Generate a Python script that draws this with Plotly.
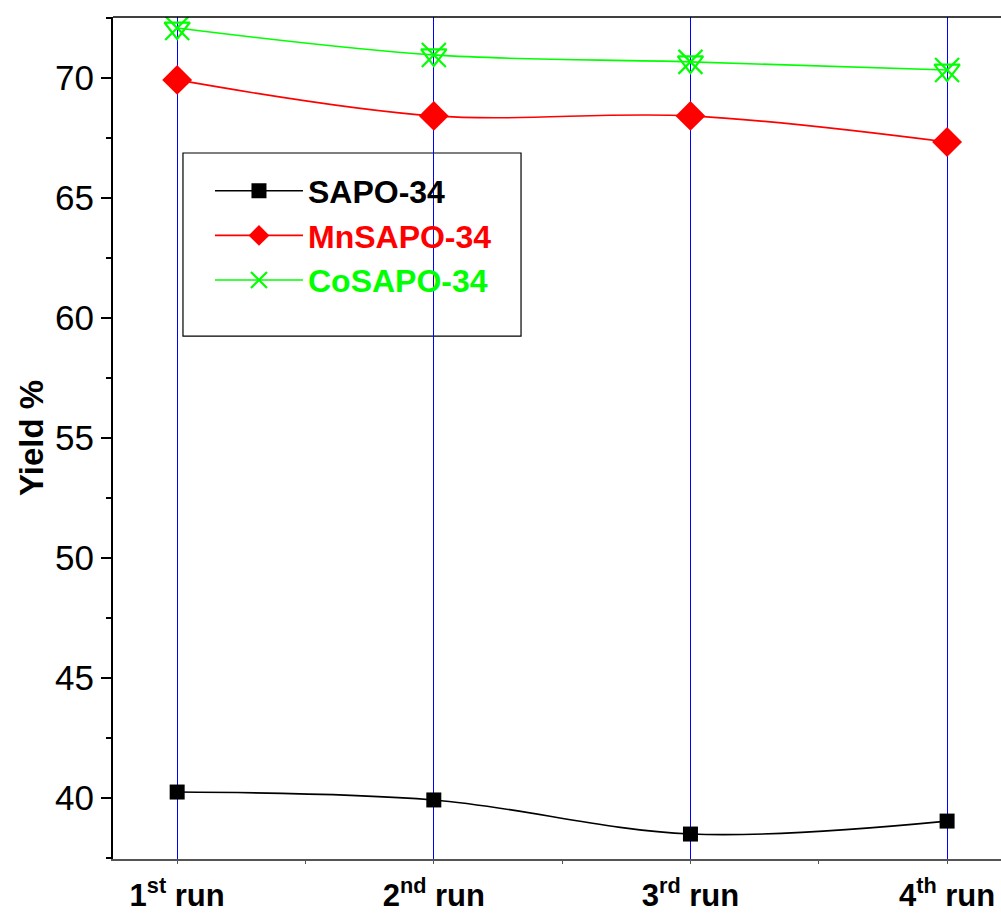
import plotly.graph_objects as go

runs = [0, 1, 2, 3]
run_labels = ["1<sup>st</sup> run", "2<sup>nd</sup> run", "3<sup>rd</sup> run", "4<sup>th</sup> run"]
sapo = [40.25, 39.92, 38.5, 39.04]
mnsapo = [69.92, 68.42, 68.42, 67.33]
cosapo = [72.08, 70.96, 70.67, 70.33]

FONT = "Liberation Sans, Arial, sans-serif"

fig = go.Figure()
fig.add_trace(go.Scatter(
    x=runs, y=sapo, mode="lines+markers",
    name="<b><span style='color:black'>SAPO-34</span></b>",
    line=dict(color="black", width=1.6, shape="spline"),
    marker=dict(symbol="square", size=15, color="black")))
fig.add_trace(go.Scatter(
    x=runs, y=mnsapo, mode="lines+markers",
    name="<b><span style='color:#ff0000'>MnSAPO-34</span></b>",
    line=dict(color="#ff0000", width=1.6, shape="spline"),
    marker=dict(symbol="diamond", size=23, color="#ff0000")))
fig.add_trace(go.Scatter(
    x=runs, y=cosapo, mode="lines+markers",
    name="<b><span style='color:#00ff00'>CoSAPO-34</span></b>",
    line=dict(color="#00ff00", width=1.6, shape="spline"),
    marker=dict(symbol="x-thin-open", size=24, color="#00ff00",
                line=dict(color="#00ff00", width=2.2)),
    legendgroup="co"))
fig.add_trace(go.Scatter(
    x=runs, y=cosapo, mode="markers", showlegend=False, legendgroup="co",
    marker=dict(symbol="triangle-down-open", size=22, color="#00ff00",
                line=dict(color="#00ff00", width=2.2))))

fig.update_layout(
    width=1001, height=914,
    margin=dict(l=113, r=0, t=17, b=55),
    plot_bgcolor="white", paper_bgcolor="white",
    font=dict(family=FONT, color="black"),
    legend=dict(
        x=0.1092, y=0.826, xanchor="left", yanchor="top",
        borderwidth=0, bgcolor="rgba(0,0,0,0)",
        font=dict(size=32, family=FONT),
        itemwidth=88, tracegroupgap=0,
    ),
    xaxis=dict(
        range=[-0.25, 3.21], automargin=False,
        tickmode="array", tickvals=runs, ticktext=["<b>" + t + "</b>" for t in run_labels],
        tickfont=dict(size=31, family=FONT, color="black"),
        ticklabeloverflow="allow", ticklabelstandoff=5,
        showline=True, linecolor="#555555", linewidth=2,
        ticks="outside", ticklen=3, tickcolor="#555555", tickwidth=1,
        showgrid=True, gridcolor="#0000ff", gridwidth=1,
        minor=dict(tickvals=[0.5, 1.5, 2.5], ticks="outside", ticklen=3,
                   tickcolor="#555555", showgrid=False),
        zeroline=False,
    ),
    yaxis=dict(
        range=[37.46, 72.54], automargin=False,
        tick0=40, dtick=5,
        tickfont=dict(size=35, family=FONT, color="black"),
        showline=True, linecolor="black", linewidth=2,
        ticks="outside", ticklen=10, tickwidth=2, tickcolor="black",
        minor=dict(dtick=2.5, ticks="outside", ticklen=5, tickwidth=2,
                   tickcolor="black", showgrid=False),
        showgrid=False, zeroline=False,
        title=dict(text="<b>Yield %</b>", font=dict(size=33, family=FONT),
                   standoff=2),
    ),
    shapes=[
        dict(type="line", xref="paper", yref="paper", x0=0, x1=1, y0=1, y1=1,
             line=dict(color="black", width=1.5)),
        dict(type="rect", xref="paper", yref="paper",
             x0=0.0788, x1=0.4595, y0=0.6211, y1=0.8385,
             line=dict(color="black", width=1.2), fillcolor="white", layer="below"),
    ],
)

fig.write_html("out.html")
